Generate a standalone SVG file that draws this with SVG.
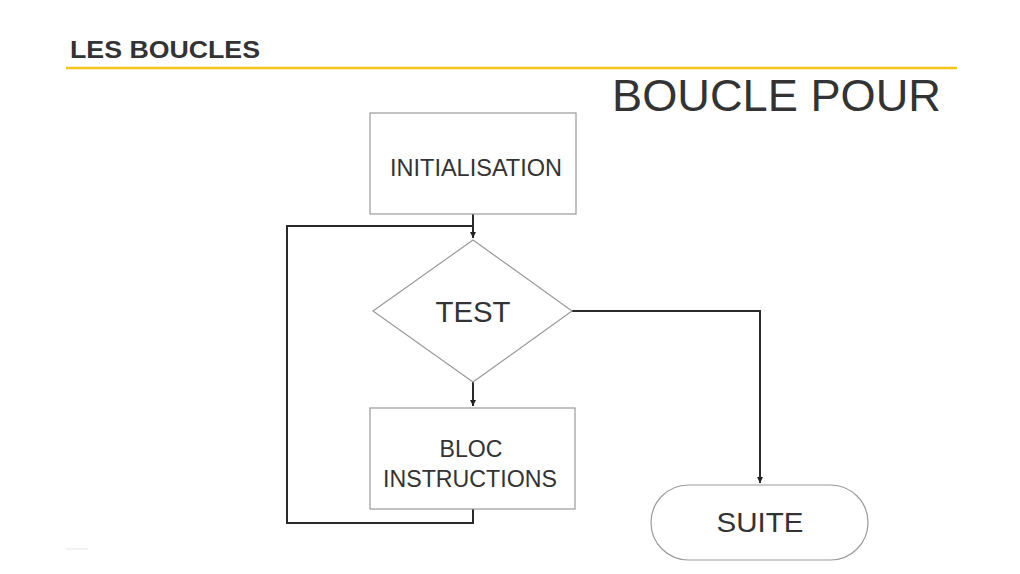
<svg xmlns="http://www.w3.org/2000/svg" width="1020" height="574" viewBox="0 0 1020 574">
<defs>
<style>
.shape{fill:#fff;stroke:#9a9a9a;stroke-width:1.2}
.lbl{font-family:"Liberation Sans",Arial,sans-serif;fill:#333;text-anchor:middle}
.conn{fill:none;stroke:#2a2a2a;stroke-width:2}
</style>
<marker id="arr" markerWidth="8" markerHeight="8" refX="6" refY="3" orient="auto" markerUnits="userSpaceOnUse">
<path d="M0,0 L6,3 L0,6 Z" fill="#222"/>
</marker>
</defs>
<rect width="1020" height="574" fill="#fff"/>
<g id="header">
<text x="70" y="58" font-family="Liberation Sans,Arial,sans-serif" font-size="24" font-weight="bold" fill="#333" textLength="190" lengthAdjust="spacingAndGlyphs">LES BOUCLES</text>
<line x1="66" y1="68" x2="957" y2="68" stroke="#f5c518" stroke-width="2.5"/>
<text x="612" y="111" font-family="Liberation Sans,Arial,sans-serif" font-size="45" fill="#333" textLength="329" lengthAdjust="spacingAndGlyphs">BOUCLE POUR</text>
<line x1="66" y1="549" x2="88" y2="549" stroke="#e6e6e6" stroke-width="1"/>
</g>
<g id="connectors">
<path class="conn" d="M473,214 V238" marker-end="url(#arr)"/>
<path class="conn" d="M473,509 V523 H287 V226 H473"/>
<path class="conn" d="M473,382 V406" marker-end="url(#arr)"/>
<path class="conn" d="M572,311 H760 V483" marker-end="url(#arr)"/>
</g>
<g id="init">
<rect class="shape" x="370" y="113" width="206" height="101"/>
<text class="lbl" x="476" y="176" font-size="23" textLength="172" lengthAdjust="spacingAndGlyphs">INITIALISATION</text>
</g>
<g id="test">
<polygon class="shape" points="473,240 572,311 473,382 373,311"/>
<text class="lbl" x="473" y="322" font-size="30" textLength="75" lengthAdjust="spacingAndGlyphs">TEST</text>
</g>
<g id="bloc">
<rect class="shape" x="370" y="408" width="205" height="101"/>
<text class="lbl" x="471" y="457" font-size="23" textLength="63" lengthAdjust="spacingAndGlyphs">BLOC</text>
<text class="lbl" x="470" y="487" font-size="23" textLength="174" lengthAdjust="spacingAndGlyphs">INSTRUCTIONS</text>
</g>
<g id="suite">
<rect class="shape" x="651" y="485" width="217" height="75" rx="37.5" ry="37.5"/>
<text class="lbl" x="760" y="532" font-size="28" textLength="87" lengthAdjust="spacingAndGlyphs">SUITE</text>
</g>
</svg>
